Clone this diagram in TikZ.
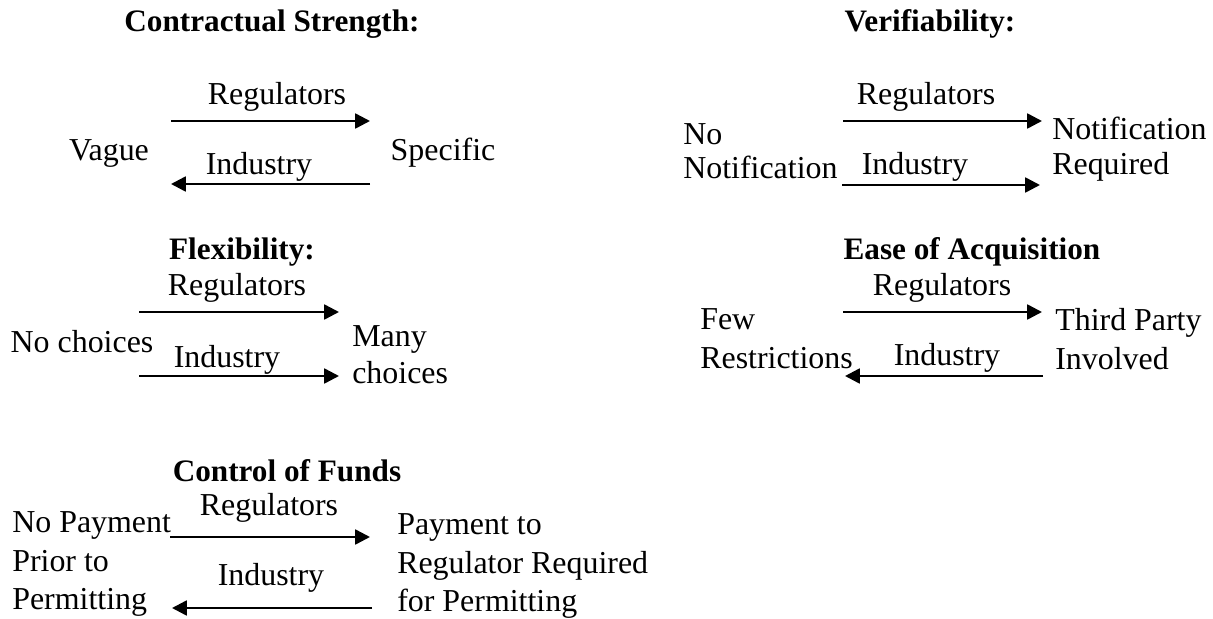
\documentclass[tikz,border=0pt]{standalone}
\usepackage{fontspec}
\setmainfont{Liberation Serif}
\usetikzlibrary{arrows.meta}

\begin{document}
\begin{tikzpicture}[x=0.025cm, y=-0.025cm,
    every node/.style={font=\fontsize{22.7pt}{27.5pt}\selectfont, inner sep=0pt},
    heading/.style={font=\fontsize{22.2pt}{27pt}\selectfont\bfseries},
    pole/.style={align=left, anchor=west},
    push/.style={line width=1.8pt, -{Triangle[length=10.5pt,width=10.5pt]}}]

\useasboundingbox (0,0) rectangle (1213,619);

% contractual strength
\node[heading] (csHead) at (272,24) {Contractual Strength:};
\node (csVague) at (109,153) {Vague};
\node (csSpec) at (443,153) {Specific};
\coordinate (csA) at (171,121);
\coordinate (csB) at (370,121);
\coordinate (csC) at (370,184);
\coordinate (csD) at (171,184);
\draw[push] (csA) -- (csB);
\draw[push] (csC) -- (csD);
\node (csReg) at (277,97) {Regulators};
\node (csInd) at (259,167) {Industry};

% verifiability
\node[heading] (vfHead) at (930,24) {Verifiability:};
\node[pole] (vfNo) at (683,151) {No\\[-3pt]Notification};
\node[pole] (vfReq) at (1052,149) {Notification\\[-3pt]Required};
\coordinate (vfA) at (843,121);
\coordinate (vfB) at (1042,121);
\coordinate (vfC) at (842,185);
\coordinate (vfD) at (1040,185);
\draw[push] (vfA) -- (vfB);
\draw[push] (vfC) -- (vfD);
\node (vfReg) at (926,97) {Regulators};
\node (vfInd) at (915,167) {Industry};

% flexibility
\node[heading] (fxHead) at (242,252) {Flexibility:};
\node (fxNo) at (82,342) {No choices};
\node[pole] (fxMany) at (352,355) {Many\\[-1pt]choices};
\coordinate (fxA) at (139,312);
\coordinate (fxB) at (339,312);
\coordinate (fxC) at (139,376);
\coordinate (fxD) at (339,376);
\draw[push] (fxA) -- (fxB);
\draw[push] (fxC) -- (fxD);
\node (fxReg) at (237,288) {Regulators};
\node (fxInd) at (227,360) {Industry};

% ease of acquisition
\node[heading] (eaHead) at (972,252) {Ease of Acquisition};
\node[pole] (eaFew) at (700,339) {Few\\Restrictions};
\node[pole] (eaThird) at (1055,339) {Third Party\\Involved};
\coordinate (eaA) at (843,312);
\coordinate (eaB) at (1042,312);
\coordinate (eaC) at (1043,376);
\coordinate (eaD) at (845,376);
\draw[push] (eaA) -- (eaB);
\draw[push] (eaC) -- (eaD);
\node (eaReg) at (942,288) {Regulators};
\node (eaInd) at (947,358) {Industry};

% control of funds
\node[heading] (cfHead) at (287,471) {Control of Funds};
\node[pole] (cfNo) at (12,564) {No Payment\\Prior to\\Permitting};
\node[pole] (cfPay) at (397,566) {Payment to\\Regulator Required\\for Permitting};
\coordinate (cfA) at (170,537);
\coordinate (cfB) at (370,537);
\coordinate (cfC) at (372,608);
\coordinate (cfD) at (172,608);
\draw[push] (cfA) -- (cfB);
\draw[push] (cfC) -- (cfD);
\node (cfReg) at (269,508) {Regulators};
\node (cfInd) at (271,578) {Industry};

\end{tikzpicture}
\end{document}
